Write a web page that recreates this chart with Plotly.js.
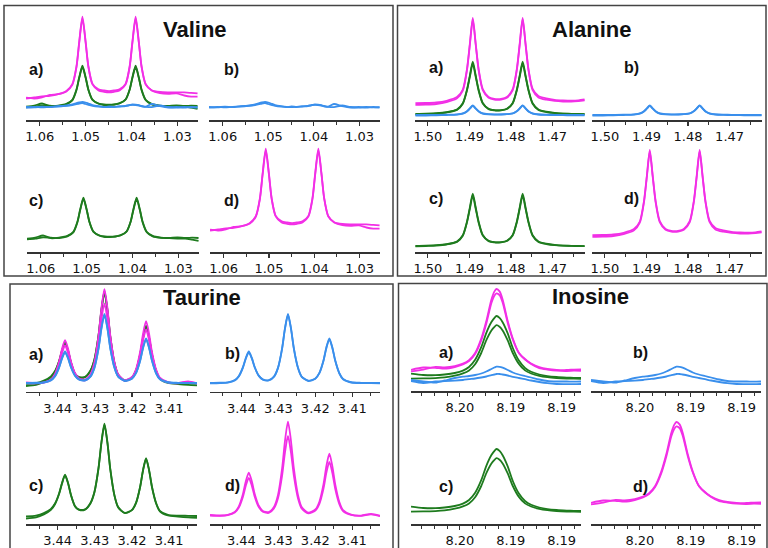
<!DOCTYPE html>
<html><head><meta charset="utf-8">
<script src="https://cdn.plot.ly/plotly-3.0.1.min.js"></script>
<style>html,body{margin:0;padding:0;background:#fff;}#chart{width:768px;height:548px;}</style>
</head><body><div id="chart"></div>
<script>
// ---------- Valine (ppm, intensity) ----------
const VAL_X  = [1.0630,1.0612,1.0595,1.0578,1.0560,1.0542,1.0529,1.0520,1.0514,1.0507,1.0500,1.0494,1.0485,1.0472,1.0460,1.0449,1.0438,1.0426,1.0413,1.0404,1.0398,1.0391,1.0384,1.0378,1.0369,1.0356,1.0338,1.0320,1.0302,1.0285,1.0270,1.0256];
const VAL_M1 = [21.4,22.5,23.7,24.2,25.9,29.1,35.9,53.6,78.2,103.4,78.3,53.8,36.1,30.6,29.5,28.9,29.5,30.6,36.1,53.8,78.3,103.4,78.2,53.6,35.9,29.6,26.8,26.1,26.7,24.5,23.4,23.3];
const VAL_M2 = [22.3,21.5,22.7,25,25.8,28.6,35.2,52.6,77,101.5,77.4,53,35.6,29.5,28.2,27.6,28.2,29.6,35.4,52.8,77.2,101.5,77.3,53,35.5,29.8,28,27.6,27.6,27.6,27.1,26.6];
const VAL_G1 = [13.3,14.4,16.5,13.8,14.4,16.1,20.2,30.4,42.7,54.3,42.8,30.5,20.3,16.5,15.5,15.3,15.5,16.5,20.3,30.5,42.8,54.3,42.7,30.4,20.2,16.1,14.4,13.8,13.5,13.4,12.3,11.2];
const VAL_G2 = [12.6,13.3,14.7,14.3,14,15.7,19.6,29.8,42,53,42.2,30.1,20,16.3,15,14.8,15.3,16.8,20.5,30.2,42,53,42,29.8,19.7,15.6,14.2,14.1,14.7,14,14.3,14];
const VAL_B1 = [12.5,13,12.6,13.2,13.5,14.5,15.5,16.8,17.5,18,17.5,16.5,15,13.8,13,12.8,13.2,13.6,14.2,15,15.5,15.3,14.8,14,13.2,12.8,14.5,13,12.5,13,12.6,12.8];
const VAL_B2 = [13,12.6,13.4,12.8,13.8,14.2,15,15.8,16.5,16.8,16,15.2,14.2,13.3,12.8,13.5,13,13.5,14,14.8,15.2,15,14.5,13.6,13.3,16,13.8,12.4,13,12.4,13,12.5];

// ---------- Alanine ----------
const ALA_X  = [1.5030,1.5005,1.4980,1.4955,1.4930,1.4916,1.4906,1.4899,1.4892,1.4885,1.4878,1.4868,1.4854,1.4840,1.4832,1.4824,1.4810,1.4796,1.4786,1.4779,1.4772,1.4765,1.4758,1.4748,1.4734,1.4715,1.4695,1.4675,1.4655,1.4638,1.4623];
const ALA_M1 = [16.9,17,17.5,19.2,22.9,30.5,50.9,76.5,102,76.6,51.1,30.8,23,21.1,20.9,21.1,23,30.8,51.1,76.6,102,76.5,50.9,31,23.9,21.6,20.2,19.6,19.3,19.6,20.5];
const ALA_M2 = [15.2,15.4,16,17.8,21.6,29.3,49.6,75.2,100.3,75.5,50,29.8,22.2,20.3,20.1,20.4,22.3,29.6,49.8,75.4,100.6,75.4,49.9,29.8,22.6,20.3,19.1,18.5,18.3,18.8,19.6];
const ALA_G1 = [6.1,6.3,6.8,7.9,10.6,16.8,30.4,44.6,58.4,44.7,30.5,17.1,11.3,9.9,9.7,9.9,11.3,17.1,30.5,44.7,58.4,44.6,30.4,16.8,10.6,8.3,7.1,6.4,6.2,6,5.9];
const ALA_G2 = [5.6,6,6.4,7.5,10.1,16.2,29.4,43.2,56.5,43.3,29.5,16.4,10.9,9.7,9.5,9.6,11,16.5,29.6,43.3,56.5,43.2,29.4,16.2,10.1,8,6.8,6.3,6.1,5.9,5.8];
const ALA_B1 = [5.1,5.1,5.2,5.3,5.7,6.6,8.8,11.7,14.6,11.7,8.9,6.6,5.8,5.6,5.6,5.6,5.8,6.6,8.9,11.7,14.6,11.7,8.8,6.6,5.7,5.4,5.2,5.1,5.1,5.1,5.1];
const ALA_B2 = [4.3,4.5,4.7,5,5.4,6.3,8.5,11.3,14.1,11.4,8.6,6.4,5.6,5.4,5.4,5.5,5.8,6.5,8.7,11.5,14.3,11.5,8.6,6.4,5.5,5.1,4.9,4.8,4.7,4.6,4.6];

// ---------- Taurine ----------
const TAU_X  = [3.4485,3.4458,3.4437,3.4418,3.4407,3.4396,3.4388,3.4380,3.4372,3.4364,3.4353,3.4342,3.4326,3.4312,3.4301,3.4290,3.4282,3.4274,3.4266,3.4258,3.4247,3.4237,3.4219,3.4200,3.4189,3.4178,3.4170,3.4162,3.4154,3.4146,3.4135,3.4125,3.4103,3.4076,3.4049,3.4025];
const TAU_M1 = [9.1,8.5,9.1,12.1,17.7,29.8,42.8,51.4,42.9,30.1,18.3,13.1,11.9,17,29.1,55.3,83.4,102.4,83.5,55.3,29.1,17.1,11.3,14.5,22.3,39.5,58,70.4,57.9,39.3,21.9,13.8,9.3,8.4,10.2,8.2];
const TAU_M2 = [8.5,8.2,8.8,11.4,16.4,27.1,38.5,46.2,38.6,27.3,17,12.2,11.1,15.5,25.7,48.1,71.9,88.2,71.9,48.1,25.8,15.5,10.6,13.5,20.2,35.2,51.4,62.1,51.3,35,19.9,12.8,9,8.2,9.6,7.8];
const TAU_G1 = [7.6,8.4,10.9,15.2,20.5,30.5,41.2,49.4,41.3,29.1,17.8,14.4,14.8,20.8,32.1,56,82.1,100.4,81.9,54.3,28.6,16.9,11.1,14.1,21.3,37.3,54.4,65.9,54.3,37.1,21,13.2,9.2,8.4,8.2,8];
const TAU_G2 = [5.5,6.6,9.6,14.2,19.8,30,40.6,48.6,40.7,28.7,17.5,14.1,14.4,20.3,31.5,55.3,81.2,99,81.1,53.8,28.2,16.5,10.8,13.8,20.9,36.8,53.8,65,53.6,36.5,20.5,12.7,8.5,7.4,6.6,6.2];
const TAU_B1 = [8.6,8.8,9.2,11.4,15.5,24.3,33.7,40,33.8,24.5,15.9,12.1,11.3,15,23.9,43.1,63.8,77.7,63.8,43.1,23.9,15,10.8,13.1,18.7,31,44.3,53.2,44.2,30.9,18.4,12.6,9.3,8.7,8.6,8.5];
const TAU_B2 = [8.1,8.4,8.9,11,15,23.7,32.9,39,33.1,24,15.6,11.8,11,14.6,23.4,42.4,62.8,76.5,62.9,42.5,23.5,14.7,10.5,12.8,18.3,30.5,43.6,52.2,43.5,30.4,18,12.2,9,8.4,8.3,8.1];

// ---------- Inosine ----------
const INO_X  = [8.2023,8.2011,8.1999,8.1990,8.1980,8.1972,8.1966,8.1960,8.1954,8.1949,8.1944,8.1941,8.1939,8.1936,8.1933,8.1928,8.1923,8.1917,8.1911,8.1905,8.1897,8.1889,8.1880,8.1870,8.1863,8.1856];
const INO_M1 = [19.7,21.4,24.1,23.7,24.9,27.3,30.8,38,52.4,70,91.6,99.6,102,99.6,91.6,70,52.4,38,32,27,22.9,21.4,20.3,20,20.3,20.2];
const INO_M2 = [21.2,23.5,23.2,22.3,24,26.5,30,37,50.5,67.5,88,95.5,97.7,95.8,88.5,68,51.5,38,31.5,27.5,24,22.2,21.2,21,21.4,21.5];
const INO_G1 = [17.3,16,15.8,16.5,18,20.4,24,31.2,43.8,58.2,69,73.2,75,73.2,68.8,57.7,43,30.4,23,19.2,16.5,14.9,14,13.4,13.1,13];
const INO_G2 = [12.3,12.6,12.9,13.6,15.3,17.6,20.6,26.8,38,50.8,60.5,64.2,65.8,64.3,60.6,50.6,38,27.1,20.6,17.5,15.1,13.8,13,12.5,12.3,12.2];
const INO_B1 = [11,9.5,8.5,10.5,13,14.3,15,16,17.5,19.5,22,23.5,24.3,24.2,23.3,21,18.5,16.5,15,13.5,11.5,10,9.5,9.5,9.3,9.5];
const INO_B2 = [10,8,9.5,9.8,10.3,11,11.8,12.5,13.5,14.5,15.8,16.5,17,17,16.5,15.5,14.2,13,11.8,10.5,9,7.8,7,6.8,6.8,7];

const SUB_LABELS = ['a)','b)','c)','d)'];
const TITLES = ['Valine','Alanine','Taurine','Inosine'];

const MAG = '#f22fe6', GRN = '#1e7b1e', BLU = '#3a8fec';
const W = 768, H = 548;
const fx = v => v / W, fy = v => 1 - v / H;

const PANELS = [
  {x: VAL_X, m: [VAL_M1, VAL_M2], g: [VAL_G1, VAL_G2], b: [VAL_B1, VAL_B2],
   range: [1.063, 1.0255], tick0: 0, dtick: 0.01, mdtick: 0.005, tpos: [195, 30],
   sub: [[26,198,12,120],[209,380,12,120],[27,199,144,252],[210,380,144,252]],
   lab: [[27,69],[222,69],[27,200],[222,200]]},
  {x: ALA_X, m: [ALA_M1, ALA_M2], g: [ALA_G1, ALA_G2], b: [ALA_B1, ALA_B2],
   range: [1.5031, 1.4622], tick0: 0, dtick: 0.01, mdtick: 0.005, tpos: [591, 30],
   sub: [[415,585,12,120],[592,762,12,120],[415,585,144,252],[592,762,144,252]],
   lab: [[427,68],[622,68],[427,198],[622,198]]},
  {x: TAU_X, m: [TAU_M1, TAU_M2], g: [TAU_G1, TAU_G2], b: [TAU_B1, TAU_B2],
   range: [3.4485, 3.4025], tick0: 0, dtick: 0.01, mdtick: 0.005, tpos: [202, 297],
   sub: [[26,197,283.5,391.5],[210,380,283.5,391.5],[26,197,416,524],[210,380,416,524]],
   lab: [[27,354],[223,353],[27,485],[223,485]]},
  {x: INO_X, m: [INO_M1, INO_M2], g: [INO_G1, INO_G2], b: [INO_B1, INO_B2],
   range: [8.2023, 8.1856], tick0: 8.1875, dtick: 0.005, mdtick: 0.00125, tpos: [590, 296],
   sub: [[411,581,283,391],[591,761,283,391],[411,581,416,524],[591,761,416,524]],
   lab: [[437,352],[631,352],[437,486],[631,486]]}
];

const traces = [];
const layout = {
  width: W, height: H, margin: {l:0, r:0, t:0, b:0},
  paper_bgcolor: '#fff', plot_bgcolor: 'rgba(0,0,0,0)', showlegend: false,
  annotations: [], shapes: []
};

let n = 0;
PANELS.forEach((p, pi) => {
  p.sub.forEach((s, k) => {
    n++;
    const xid = n === 1 ? 'x' : 'x' + n, yid = n === 1 ? 'y' : 'y' + n;
    const xkey = n === 1 ? 'xaxis' : 'xaxis' + n, ykey = n === 1 ? 'yaxis' : 'yaxis' + n;
    layout[xkey] = {
      domain: [fx(s[0]), fx(s[1])], anchor: yid, range: p.range,
      showline: true, linecolor: '#333', linewidth: 1.5,
      ticks: 'outside', ticklen: 4, tickwidth: 1.2, tickcolor: '#333',
      tickmode: 'linear', tick0: p.tick0, dtick: p.dtick, tickformat: '.2f',
      showgrid: false, zeroline: false, fixedrange: true,
      tickfont: {family: 'DejaVu Sans', size: 13, color: '#111'},
      minor: {ticks: 'outside', ticklen: 3, tickwidth: 1, tickcolor: '#333',
              tick0: p.tick0, dtick: p.mdtick, showgrid: false}
    };
    layout[ykey] = {domain: [fy(s[3]), fy(s[2])], anchor: xid, range: [0, 108],
                    visible: false, fixedrange: true};
    let sets = [];
    if (k === 0) sets = [[p.g, GRN], [p.m, MAG], [p.b, BLU]];
    if (k === 1) sets = [[p.b, BLU]];
    if (k === 2) sets = [[p.g, GRN]];
    if (k === 3) sets = [[p.m, MAG]];
    sets.forEach(([arrs, col]) => arrs.forEach(yv => traces.push({
      type: 'scatter', mode: 'lines', x: p.x, y: yv, xaxis: xid, yaxis: yid,
      line: {color: col, width: 1.8, shape: 'spline', smoothing: 0.7},
      hoverinfo: 'skip', showlegend: false, cliponaxis: true
    })));
    layout.annotations.push({
      xref: 'paper', yref: 'paper', x: fx(p.lab[k][0]), y: fy(p.lab[k][1]),
      xanchor: 'left', yanchor: 'middle', showarrow: false,
      text: '<b>' + SUB_LABELS[k] + '</b>',
      font: {family: 'Liberation Sans, Arial', size: 16, color: '#111'}
    });
  });
  layout.annotations.push({
    xref: 'paper', yref: 'paper', x: fx(p.tpos[0]), y: fy(p.tpos[1]),
    xanchor: 'center', yanchor: 'middle', showarrow: false,
    text: '<b>' + TITLES[pi] + '</b>',
    font: {family: 'Liberation Sans, Arial', size: 22, color: '#111'}
  });
});

[[4,393,5.5,276],[397.5,766,5.5,276],[10,393,284,560],[398.5,767,283.5,560]].forEach(b => {
  layout.shapes.push({type: 'rect', xref: 'paper', yref: 'paper',
    x0: fx(b[0]), x1: fx(b[1]), y0: fy(b[3]), y1: fy(b[2]),
    line: {color: '#444', width: 1.5}, fillcolor: 'rgba(0,0,0,0)', layer: 'above'});
});

Plotly.newPlot('chart', traces, layout, {staticPlot: true, displayModeBar: false});
</script>
</body></html>
